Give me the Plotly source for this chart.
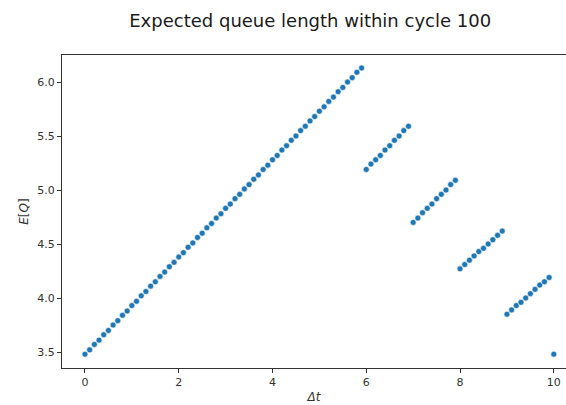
import plotly.graph_objects as go

dt = [0.0, 0.1, 0.2, 0.3, 0.4, 0.5, 0.6, 0.7, 0.8, 0.9,
      1.0, 1.1, 1.2, 1.3, 1.4, 1.5, 1.6, 1.7, 1.8, 1.9,
      2.0, 2.1, 2.2, 2.3, 2.4, 2.5, 2.6, 2.7, 2.8, 2.9,
      3.0, 3.1, 3.2, 3.3, 3.4, 3.5, 3.6, 3.7, 3.8, 3.9,
      4.0, 4.1, 4.2, 4.3, 4.4, 4.5, 4.6, 4.7, 4.8, 4.9,
      5.0, 5.1, 5.2, 5.3, 5.4, 5.5, 5.6, 5.7, 5.8, 5.9,
      6.0, 6.1, 6.2, 6.3, 6.4, 6.5, 6.6, 6.7, 6.8, 6.9,
      7.0, 7.1, 7.2, 7.3, 7.4, 7.5, 7.6, 7.7, 7.8, 7.9,
      8.0, 8.1, 8.2, 8.3, 8.4, 8.5, 8.6, 8.7, 8.8, 8.9,
      9.0, 9.1, 9.2, 9.3, 9.4, 9.5, 9.6, 9.7, 9.8, 9.9,
      10.0]

eq = [3.48, 3.52, 3.57, 3.61, 3.66, 3.70, 3.75, 3.79, 3.84, 3.88,
      3.93, 3.97, 4.02, 4.06, 4.11, 4.15, 4.20, 4.24, 4.29, 4.33,
      4.38, 4.42, 4.47, 4.51, 4.56, 4.60, 4.65, 4.69, 4.74, 4.78,
      4.83, 4.87, 4.92, 4.96, 5.01, 5.05, 5.10, 5.14, 5.19, 5.23,
      5.28, 5.32, 5.37, 5.41, 5.46, 5.50, 5.55, 5.59, 5.64, 5.68,
      5.73, 5.77, 5.82, 5.86, 5.91, 5.95, 6.00, 6.04, 6.09, 6.13,
      5.19, 5.24, 5.28, 5.32, 5.37, 5.41, 5.46, 5.50, 5.55, 5.59,
      4.70, 4.74, 4.79, 4.83, 4.87, 4.92, 4.96, 5.00, 5.05, 5.09,
      4.27, 4.31, 4.35, 4.39, 4.43, 4.46, 4.50, 4.54, 4.58, 4.62,
      3.85, 3.89, 3.93, 3.96, 4.00, 4.04, 4.08, 4.12, 4.15, 4.19,
      3.48]

x_ticks = [0, 2, 4, 6, 8, 10]
y_ticks = [3.5, 4.0, 4.5, 5.0, 5.5, 6.0]
y_tick_labels = ["3.5", "4.0", "4.5", "5.0", "5.5", "6.0"]

fig = go.Figure(go.Scatter(
    x=dt, y=eq, mode="markers",
    marker=dict(color="#1f77b4", size=6, line=dict(color="white", width=0.6)),
))

axis_common = dict(
    showgrid=False, zeroline=False, showline=True, mirror=True,
    linecolor="#333333", linewidth=1, ticks="outside", ticklen=4,
    tickcolor="#333333", tickfont=dict(family="DejaVu Sans", size=11, color="#333333"),
)

fig.update_layout(
    width=566, height=405,
    margin=dict(l=62, r=0, t=55, b=37),
    paper_bgcolor="white", plot_bgcolor="white",
    showlegend=False,
    title=dict(text="Expected queue length within cycle 100",
               x=0.548, xanchor="center", y=0.95, yanchor="middle",
               font=dict(family="DejaVu Sans", size=18, color="#1a1a1a")),
    xaxis=dict(range=[-0.49, 10.26], tickvals=x_ticks,
               title=dict(text="<i>Δt</i>", standoff=4,
                          font=dict(family="DejaVu Sans", size=12, color="#333333")),
               **axis_common),
    yaxis=dict(range=[3.352, 6.25], tickvals=y_ticks, ticktext=y_tick_labels,
               title=dict(text="<i>E</i>[<i>Q</i>]", standoff=6,
                          font=dict(family="DejaVu Sans", size=12, color="#333333")),
               **axis_common),
)

fig.write_html("out.html")
